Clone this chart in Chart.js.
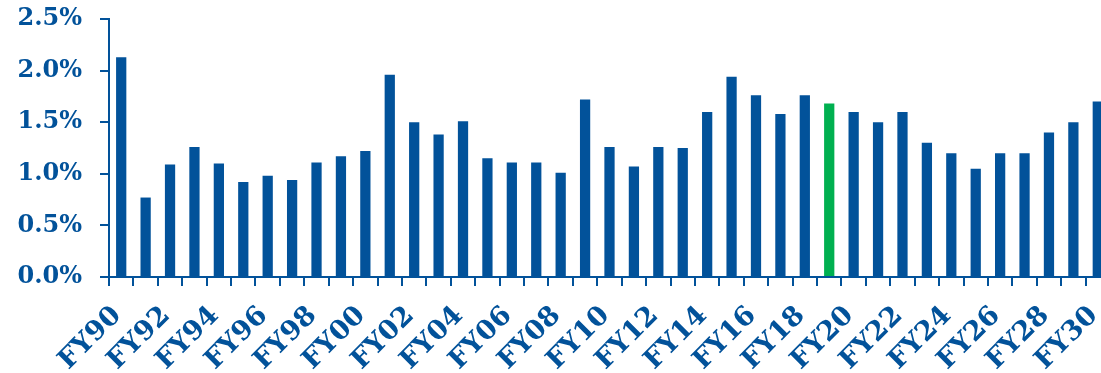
<!DOCTYPE html>
<html>
<head>
<meta charset="utf-8">
<script src="https://cdn.jsdelivr.net/npm/chart.js@4"></script>
<style>
  html, body { margin: 0; padding: 0; background: #fff; overflow: hidden; }
  #wrap { position: relative; width: 1110px; height: 373px; }
</style>
</head>
<body>
<div id="wrap"><canvas id="growthChart"></canvas></div>
<script>
// Fiscal years FY90 .. FY30
const years = [
  "FY90","FY91","FY92","FY93","FY94","FY95","FY96","FY97","FY98","FY99",
  "FY00","FY01","FY02","FY03","FY04","FY05","FY06","FY07","FY08","FY09",
  "FY10","FY11","FY12","FY13","FY14","FY15","FY16","FY17","FY18","FY19",
  "FY20","FY21","FY22","FY23","FY24","FY25","FY26","FY27","FY28","FY29",
  "FY30"
];

// annual rate, percent
const rates = [
  2.13, 0.77, 1.09, 1.26, 1.10, 0.92, 0.98, 0.94, 1.11, 1.17,
  1.22, 1.96, 1.50, 1.38, 1.51, 1.15, 1.11, 1.11, 1.01, 1.72,
  1.26, 1.07, 1.26, 1.25, 1.60, 1.94, 1.76, 1.58, 1.76, 1.68,
  1.60, 1.50, 1.60, 1.30, 1.20, 1.05, 1.20, 1.20, 1.40, 1.50,
  1.70
];

const highlightYear = "FY19";
const yTicks = [0, 0.5, 1.0, 1.5, 2.0, 2.5];

const BLUE = "#02529a";
const GREEN = "#00b050";
const FONT = { family: "'DejaVu Serif', serif", weight: "bold", size: 24 };

const barColors = years.map(y => y === highlightYear ? GREEN : BLUE);

new Chart(document.getElementById("growthChart"), {
  type: "bar",
  data: {
    labels: years,
    datasets: [{
      data: rates,
      backgroundColor: barColors,
      borderWidth: 0,
      categoryPercentage: 1,
      barPercentage: 0.42
    }]
  },
  options: {
    responsive: true,
    maintainAspectRatio: false,
    animation: false,
    layout: { padding: { top: 19, left: 0, right: 0, bottom: 0 } },
    plugins: { legend: { display: false }, tooltip: { enabled: false } },
    scales: {
      x: {
        offset: true,
        border: { color: BLUE, width: 2 },
        grid: {
          offset: true,
          drawOnChartArea: false,
          drawTicks: true,
          tickLength: 9,
          color: BLUE,
          lineWidth: 2
        },
        ticks: {
          autoSkip: false,
          minRotation: 45,
          maxRotation: 45,
          padding: 14,
          labelOffset: -4,
          color: BLUE,
          font: { ...FONT, size: 27 },
          callback: function (val, i) { return i % 2 === 0 ? this.getLabelForValue(val) : ""; }
        },
        // fixed axis height, no extra side padding for rotated labels
        afterFit: s => { s.height = 96; s.paddingLeft = 0; s.paddingRight = 0; }
      },
      y: {
        min: 0,
        max: 2.5,
        border: { color: BLUE, width: 2 },
        grid: {
          drawOnChartArea: false,
          drawTicks: true,
          tickLength: 9,
          color: BLUE,
          lineWidth: 2
        },
        afterBuildTicks: s => { s.ticks = yTicks.map(v => ({ value: v })); },
        ticks: {
          padding: 18,
          color: BLUE,
          font: FONT,
          callback: v => v.toFixed(1) + "%"
        },
        afterFit: s => { s.width = 109; s.paddingTop = 0; s.paddingBottom = 0; }
      }
    }
  }
});
</script>
</body>
</html>
